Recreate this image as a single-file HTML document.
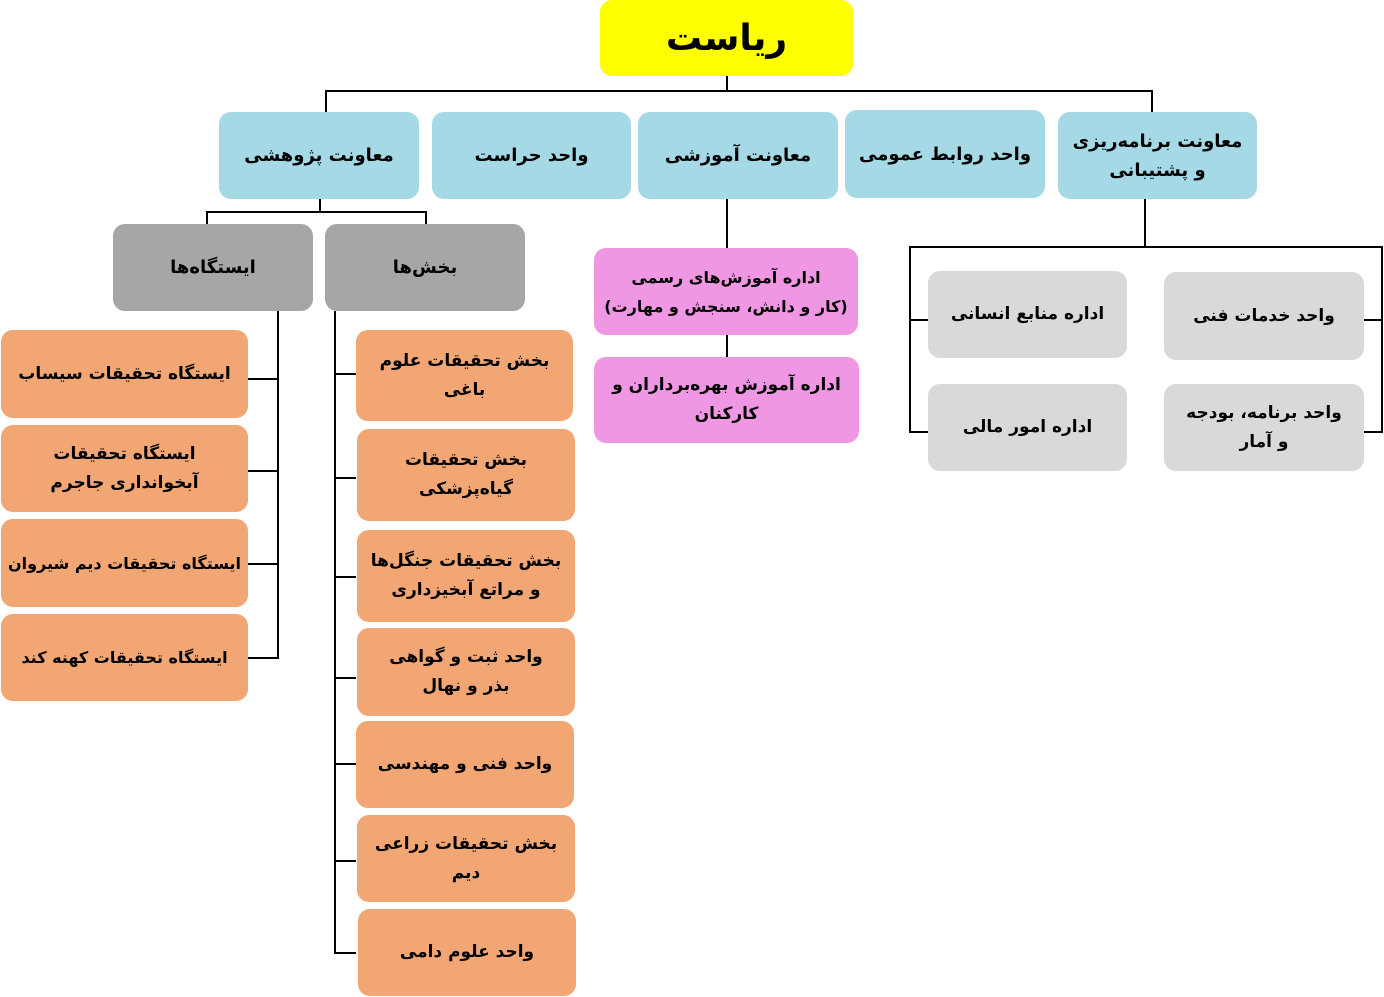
<!DOCTYPE html>
<html><head><meta charset="utf-8">
<style>
body{margin:0;width:1384px;height:997px;background:#fff;position:relative;overflow:hidden;font-family:"DejaVu Sans",sans-serif;}
.b{position:absolute;display:flex;align-items:center;justify-content:center;text-align:center;direction:rtl;font-weight:bold;font-size:17px;line-height:29px;border-radius:12px;color:#000;box-sizing:border-box;padding:0 2px;white-space:nowrap;}
.y{background:#ffff00;font-size:36px;}
.bl{background:#a5d9e6;font-size:18px;}
.g{background:#a6a6a6;font-size:18px;}
.o{background:#f2a673;}
.p{background:#f097e4;}
.lg{background:#d9d9d9;}
.l{position:absolute;background:#000;}
</style></head><body>
<div class="l" style="left:726px;top:76px;width:2px;height:16px"></div>
<div class="l" style="left:325px;top:90px;width:828px;height:2px"></div>
<div class="l" style="left:325px;top:90px;width:2px;height:22px"></div>
<div class="l" style="left:1151px;top:90px;width:2px;height:22px"></div>

<div class="l" style="left:319px;top:199px;width:2px;height:13px"></div>
<div class="l" style="left:206px;top:211px;width:221px;height:2px"></div>
<div class="l" style="left:206px;top:211px;width:2px;height:13px"></div>
<div class="l" style="left:425px;top:211px;width:2px;height:13px"></div>

<div class="l" style="left:277px;top:311px;width:2px;height:348px"></div>
<div class="l" style="left:248px;top:378px;width:30px;height:2px"></div>
<div class="l" style="left:248px;top:470px;width:30px;height:2px"></div>
<div class="l" style="left:248px;top:563px;width:30px;height:2px"></div>
<div class="l" style="left:248px;top:657px;width:30px;height:2px"></div>

<div class="l" style="left:334px;top:311px;width:2px;height:643px"></div>
<div class="l" style="left:334px;top:373px;width:22px;height:2px"></div>
<div class="l" style="left:334px;top:477px;width:22px;height:2px"></div>
<div class="l" style="left:334px;top:576px;width:22px;height:2px"></div>
<div class="l" style="left:334px;top:677px;width:22px;height:2px"></div>
<div class="l" style="left:334px;top:763px;width:22px;height:2px"></div>
<div class="l" style="left:334px;top:860px;width:22px;height:2px"></div>
<div class="l" style="left:334px;top:952px;width:22px;height:2px"></div>

<div class="l" style="left:726px;top:199px;width:2px;height:49px"></div>
<div class="l" style="left:726px;top:335px;width:2px;height:22px"></div>

<div class="l" style="left:1144px;top:199px;width:2px;height:49px"></div>
<div class="l" style="left:909px;top:246px;width:474px;height:2px"></div>
<div class="l" style="left:909px;top:246px;width:2px;height:187px"></div>
<div class="l" style="left:1381px;top:246px;width:2px;height:187px"></div>
<div class="l" style="left:909px;top:319px;width:19px;height:2px"></div>
<div class="l" style="left:909px;top:431px;width:19px;height:2px"></div>
<div class="l" style="left:1364px;top:319px;width:19px;height:2px"></div>
<div class="l" style="left:1364px;top:431px;width:19px;height:2px"></div>

<div class="b y" style="left:600px;top:0;width:253px;height:76px">ریاست</div>

<div class="b bl" style="left:219px;top:112px;width:200px;height:87px">معاونت پژوهشی</div>
<div class="b bl" style="left:432px;top:112px;width:199px;height:87px">واحد حراست</div>
<div class="b bl" style="left:638px;top:112px;width:200px;height:87px">معاونت آموزشی</div>
<div class="b bl" style="left:845px;top:110px;width:200px;height:88px">واحد روابط عمومی</div>
<div class="b bl" style="left:1058px;top:112px;width:199px;height:87px">معاونت برنامه‌ریزی<br>و پشتیبانی</div>

<div class="b g" style="left:113px;top:224px;width:200px;height:87px">ایستگاه‌ها</div>
<div class="b g" style="left:325px;top:224px;width:200px;height:87px">بخش‌ها</div>

<div class="b o" style="left:1px;top:330px;width:247px;height:88px">ایستگاه تحقیقات سیساب</div>
<div class="b o" style="left:1px;top:425px;width:247px;height:87px">ایستگاه تحقیقات<br>آبخوانداری جاجرم</div>
<div class="b o" style="left:1px;top:519px;width:247px;height:88px;font-size:16px">ایستگاه تحقیقات دیم شیروان</div>
<div class="b o" style="left:1px;top:614px;width:247px;height:87px;font-size:16px">ایستگاه تحقیقات کهنه کند</div>

<div class="b o" style="left:356px;top:330px;width:217px;height:91px">بخش تحقیقات علوم<br>باغی</div>
<div class="b o" style="left:357px;top:429px;width:218px;height:92px">بخش تحقیقات<br>گیاه‌پزشکی</div>
<div class="b o" style="left:357px;top:530px;width:218px;height:92px">بخش تحقیقات جنگل‌ها<br>و مراتع آبخیزداری</div>
<div class="b o" style="left:357px;top:628px;width:218px;height:88px">واحد ثبت و گواهی<br>بذر و نهال</div>
<div class="b o" style="left:356px;top:721px;width:218px;height:87px">واحد فنی و مهندسی</div>
<div class="b o" style="left:357px;top:815px;width:218px;height:87px">بخش تحقیقات زراعی<br>دیم</div>
<div class="b o" style="left:358px;top:909px;width:218px;height:87px">واحد علوم دامی</div>

<div class="b p" style="left:594px;top:248px;width:264px;height:87px;font-size:16px">اداره آموزش‌های رسمی<br>(کار و دانش، سنجش و مهارت)</div>
<div class="b p" style="left:594px;top:357px;width:265px;height:86px">اداره آموزش بهره‌برداران و<br>کارکنان</div>

<div class="b lg" style="left:928px;top:271px;width:199px;height:87px">اداره منابع انسانی</div>
<div class="b lg" style="left:928px;top:384px;width:199px;height:87px">اداره امور مالی</div>
<div class="b lg" style="left:1164px;top:272px;width:200px;height:88px">واحد خدمات فنی</div>
<div class="b lg" style="left:1164px;top:384px;width:200px;height:87px">واحد برنامه، بودجه<br>و آمار</div>
</body></html>
